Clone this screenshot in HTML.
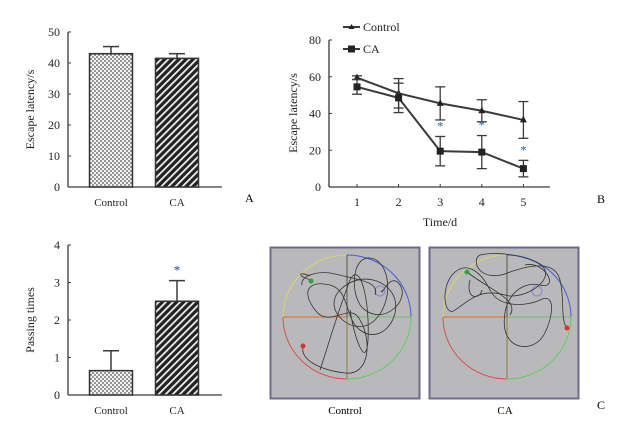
<!DOCTYPE html>
<html><head><meta charset="utf-8"><style>
html,body{margin:0;padding:0;background:#fff;}
svg{display:block;font-family:"Liberation Serif",serif;}
</style></head><body>
<svg width="623" height="421" viewBox="0 0 623 421" xmlns="http://www.w3.org/2000/svg">
<defs>
<pattern id="dots" width="4" height="4" patternUnits="userSpaceOnUse"><rect width="4" height="4" fill="#f2f2f2"/><circle cx="1" cy="1" r="0.9" fill="#555"/><circle cx="3" cy="3" r="0.9" fill="#555"/></pattern>
<pattern id="hatch" width="5" height="5" patternUnits="userSpaceOnUse" patternTransform="rotate(45)"><rect width="5" height="5" fill="#222"/><rect width="1.8" height="5" fill="#eee"/></pattern>
</defs>
<g id="chartA"></g>
<g id="chartB"></g>
<g id="chartC"></g>
<text x="245" y="202" font-size="12">A</text>
<text x="597" y="203" font-size="12">B</text>
<text x="597" y="409" font-size="12">C</text>

<g>
<rect x="270.5" y="247.5" width="149" height="151" fill="#b9b9bb" stroke="#6b6b8c" stroke-width="2"/>
<path d="M283,317 A64,62 0 0 1 347,255" fill="none" stroke="#d8d470"/>
<path d="M347,255 A64,62 0 0 1 411,317" fill="none" stroke="#4a5ad8"/>
<path d="M411,317 A64,62 0 0 1 347,379" fill="none" stroke="#5fcf5f"/>
<path d="M347,379 A64,62 0 0 1 283,317" fill="none" stroke="#d85050"/>
<line x1="283" y1="317" x2="347" y2="317" stroke="#e07030"/><line x1="347" y1="317" x2="411" y2="317" stroke="#70c070"/>
<line x1="347" y1="255" x2="347" y2="317" stroke="#555"/><line x1="347" y1="317" x2="347" y2="379" stroke="#8a8040"/>
<circle cx="380" cy="291" r="5" fill="none" stroke="#9080d0"/>
<path d="M303,346 C300,360 320,370 345,373 C370,376 372,340 360,320 C350,300 330,330 315,310 C300,290 310,280 330,285 C350,290 345,320 360,330 C380,345 400,320 395,300 C390,280 360,270 340,290 C320,310 355,340 375,320 C395,300 390,260 370,258 C350,256 350,300 365,310 C385,325 410,300 400,285 C390,270 380,300 382,290 M302,285 C300,275 320,270 335,274 C360,280 380,282 375,295 M312,280 C300,278 295,270 310,276 M320,370 C330,340 335,320 350,280 C360,260 370,300 368,340 C366,370 355,340 350,310" fill="none" stroke="#333" stroke-width="0.8"/>
<circle cx="303" cy="346" r="2.5" fill="#e03030"/><circle cx="311" cy="281" r="2.5" fill="#30a040"/>
</g>
<g>
<rect x="429.5" y="247.5" width="149" height="151" fill="#b9b9bb" stroke="#6b6b8c" stroke-width="2"/>
<path d="M443,317 A64,62 0 0 1 507,255" fill="none" stroke="#d8d470"/>
<path d="M507,255 A64,62 0 0 1 571,317" fill="none" stroke="#4a5ad8"/>
<path d="M571,317 A64,62 0 0 1 507,379" fill="none" stroke="#5fcf5f"/>
<path d="M507,379 A64,62 0 0 1 443,317" fill="none" stroke="#d85050"/>
<line x1="443" y1="317" x2="507" y2="317" stroke="#e07030"/><line x1="507" y1="317" x2="571" y2="317" stroke="#70c070"/>
<line x1="507" y1="255" x2="507" y2="317" stroke="#555"/><line x1="507" y1="317" x2="507" y2="379" stroke="#8a8040"/>
<circle cx="537" cy="291" r="5" fill="none" stroke="#9080d0"/>
<path d="M567,328 C560,320 565,300 560,280 C555,260 530,265 510,272 C480,285 470,260 480,255 C500,250 540,258 545,270 C550,285 520,300 505,295 C480,288 470,300 455,310 C445,318 440,290 452,275 C465,260 480,270 490,290 C500,310 530,305 540,300 C560,290 550,330 540,340 C530,350 510,350 505,330 C500,300 520,280 540,285 C560,290 545,260 525,265 M467,272 C490,290 520,300 510,315 M470,280 C465,300 480,300 482,290" fill="none" stroke="#333" stroke-width="0.8"/>
<circle cx="567" cy="328" r="2.5" fill="#e03030"/><circle cx="467" cy="272" r="2.5" fill="#30a040"/>
</g>
<text x="345" y="414" font-size="11" text-anchor="middle">Control</text>
<text x="505" y="414" font-size="11" text-anchor="middle">CA</text>
</svg>
<script>
const NS="http://www.w3.org/2000/svg";
function mk(p,t,a,txt){const e=document.createElementNS(NS,t);for(const k in a)e.setAttribute(k,a[k]);if(txt!==undefined)e.textContent=txt;p.appendChild(e);return e;}
const C="#3a3a3a";
// Chart A data
const aCats=["Control","CA"];
const aVals=[43,41.5];
const aErr=[2.3,1.5];
const aTicks=[0,10,20,30,40,50];
// Chart B data
const bDays=[1,2,3,4,5];
const bCtrl=[59.5,51,45.5,41.5,36.5];
const bCtrlErr=[1,8,9,6,10];
const bCA=[54.5,48.5,19.5,19,10];
const bCAErr=[4,8,8,9,4.5];
const bTicks=[0,20,40,60,80];
const bSig=[false,false,true,true,true];
// Chart C data
const cCats=["Control","CA"];
const cVals=[0.65,2.5];
const cErr=[0.53,0.55];
const cTicks=[0,1,2,3,4];
const cSig=[false,true];

function barChart(g,cats,vals,err,ticks,y0,y1,max,title,sig,prefix){
  const ax=68,ax2=222,ys=v=>y0-(v/max)*(y0-y1);
  const xs=[111,177],bw=43,fills=["url(#dots)","url(#hatch)"];
  let e;
  e=mk(g,"line",{x1:ax,y1:y1,x2:ax,y2:y0,stroke:C,"stroke-width":1.3});
  
  e=mk(g,"line",{x1:ax,y1:y0,x2:ax2,y2:y0,stroke:C,"stroke-width":1.3});
  
  ticks.forEach(t=>{mk(g,"line",{x1:ax,y1:ys(t),x2:ax+3,y2:ys(t),stroke:C});
    e=mk(g,"text",{x:ax-8,y:ys(t)+4,"font-size":12,"text-anchor":"end",fill:"#222"},t);
    });
  cats.forEach((c,i)=>{
    const top=ys(vals[i]),et=ys(vals[i]+err[i]);
    mk(g,"line",{x1:xs[i],y1:top,x2:xs[i],y2:et,stroke:C,"stroke-width":1.5});
    mk(g,"line",{x1:xs[i]-8,y1:et,x2:xs[i]+8,y2:et,stroke:C,"stroke-width":1.5});
    e=mk(g,"rect",{x:xs[i]-bw/2,y:top,width:bw,height:y0-top,fill:fills[i],stroke:"#333","stroke-width":1.5});
    
    e=mk(g,"text",{x:xs[i],y:y0+19,"font-size":11,"text-anchor":"middle",fill:"#222"},c);
    
    if(sig&&sig[i]){e=mk(g,"text",{x:xs[i],y:et-6,"font-size":13,"text-anchor":"middle",fill:"#2a3a8a"},"*");
      }
  });
  const my=(y0+y1)/2;
  e=mk(g,"text",{x:34,y:my,"font-size":12,"text-anchor":"middle",fill:"#222",transform:`rotate(-90 34 ${my})`},title);
  
}
barChart(document.getElementById("chartA"),aCats,aVals,aErr,aTicks,187,32,50,"Escape latency/s",null,"a");
barChart(document.getElementById("chartC"),cCats,cVals,cErr,cTicks,395,245,4,"Passing times",cSig,"c");

(function(){
  const g=document.getElementById("chartB");
  const ax=329,y0=187,y1=40,ys=v=>y0-v/80*(y0-y1),xs=d=>357+(d-1)*41.6;
  let e;
  e=mk(g,"line",{x1:ax,y1:y1,x2:ax,y2:y0,stroke:C,"stroke-width":1.3});
  
  e=mk(g,"line",{x1:ax,y1:y0,x2:550,y2:y0,stroke:C,"stroke-width":1.3});
  
  bTicks.forEach(t=>{mk(g,"line",{x1:ax,y1:ys(t),x2:ax+3,y2:ys(t),stroke:C});
    e=mk(g,"text",{x:ax-8,y:ys(t)+4,"font-size":12,"text-anchor":"end",fill:"#222"},t);
    });
  bDays.forEach(d=>{mk(g,"line",{x1:xs(d),y1:y0,x2:xs(d),y2:y0-3,stroke:C});
    e=mk(g,"text",{x:xs(d),y:y0+19,"font-size":12,"text-anchor":"middle",fill:"#222"},d);
    });
  function series(vals,errs,name,sq){
    vals.forEach((v,i)=>{const x=xs(bDays[i]);
      mk(g,"line",{x1:x,y1:ys(v-errs[i]),x2:x,y2:ys(v+errs[i]),stroke:C,"stroke-width":1.3});
      mk(g,"line",{x1:x-5,y1:ys(v-errs[i]),x2:x+5,y2:ys(v-errs[i]),stroke:C,"stroke-width":1.3});
      mk(g,"line",{x1:x-5,y1:ys(v+errs[i]),x2:x+5,y2:ys(v+errs[i]),stroke:C,"stroke-width":1.3});});
    e=mk(g,"polyline",{points:vals.map((v,i)=>xs(bDays[i])+","+ys(v)).join(" "),fill:"none",stroke:C,"stroke-width":2});
    
    vals.forEach((v,i)=>{const x=xs(bDays[i]),y=ys(v);
      if(sq)e=mk(g,"rect",{x:x-3.5,y:y-3.5,width:7,height:7,fill:"#222"});
      else e=mk(g,"path",{d:`M${x},${y-4} L${x+3.5},${y+2.5} L${x-3.5},${y+2.5}Z`,fill:"#222"});
      });
  }
  series(bCtrl,bCtrlErr,"control",false);
  series(bCA,bCAErr,"ca",true);
  bSig.forEach((s,i)=>{if(!s)return;
    e=mk(g,"text",{x:xs(bDays[i]),y:ys(bCA[i]+bCAErr[i])-6,"font-size":13,"text-anchor":"middle",fill:"#2a6aa0"},"*");
    });
  mk(g,"line",{x1:343,y1:27,x2:360,y2:27,stroke:C,"stroke-width":2});
  mk(g,"path",{d:"M351.5,24 L354.5,29 L348.5,29Z",fill:"#222"});
  e=mk(g,"text",{x:363,y:31,"font-size":12,fill:"#222"},"Control");
  
  mk(g,"line",{x1:343,y1:49,x2:360,y2:49,stroke:C,"stroke-width":2});
  mk(g,"rect",{x:348,y:45.5,width:7,height:7,fill:"#222"});
  e=mk(g,"text",{x:363,y:53,"font-size":12,fill:"#222"},"CA");
  
  e=mk(g,"text",{x:297,y:113,"font-size":12,"text-anchor":"middle",fill:"#222",transform:"rotate(-90 297 113)"},"Escape latency/s");
  
  e=mk(g,"text",{x:440,y:226,"font-size":12,"text-anchor":"middle",fill:"#222"},"Time/d");
  
})();
</script>
</body></html>
